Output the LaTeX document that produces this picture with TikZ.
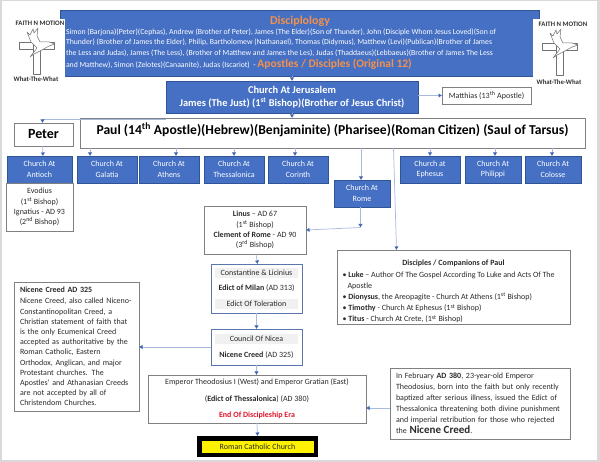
\documentclass[tikz,border=0pt]{standalone}
\usepackage{fontspec}
\setmainfont{Carlito}
\usetikzlibrary{arrows.meta}
\definecolor{bluefill}{HTML}{4570C4}
\definecolor{blueedge}{HTML}{2F5597}
\definecolor{conline}{HTML}{A8BBDF}
\definecolor{contip}{HTML}{3F66B0}
\definecolor{orng}{HTML}{F4914A}
\definecolor{ink}{HTML}{2A2A2A}
\definecolor{band}{HTML}{F1F1F1}
\definecolor{redtxt}{HTML}{E0142B}
\definecolor{frame}{HTML}{D9D9D9}
\newcommand{\fs}[2]{\fontsize{#1}{#2}\selectfont}
\newcommand{\sst}[1]{\textsuperscript{#1}}
\newcommand{\bandline}[1]{\colorbox{band}{\parbox[c][10pt]{83pt}{\centering #1}}}
\setlength{\fboxsep}{0pt}
\tikzset{
  place/.style n args={4}{at={({(#1+#3)/2},{(#2+#4)/2})},minimum width={(#3-#1)*1pt},minimum height={(#4-#2)*1pt}},
  allbox/.style={rectangle,inner sep=0pt,outer sep=0pt,align=center},
  bluebox/.style={allbox,fill=bluefill,draw=blueedge,line width=.5pt,text=white,font=\fs{8}{10.6}},
  whitebox/.style={allbox,fill=white,draw=black!50,line width=.6pt,text=ink,font=\fs{8}{10.2}},
  steelbox/.style={whitebox,draw=blueedge!80,line width=.9pt},
  conn/.style={draw=conline,line width=.7pt,-{Latex[length=3.5pt,width=4.5pt,color=contip]}},
  logotxt/.style={allbox,font=\fs{6.8}{7}\bfseries,text=black!80},
  logoline/.style={draw=black!55,line width=.5pt,fill=white,line join=round}
}
\newcommand{\logomark}{%
  \draw[logoline] (19,42)--(33,42)--(33,49.5)--(19,49.5)--cycle;
  \draw[logoline] (40,42)--(54,42)--(54,49.5)--(40,49.5)--cycle;
  \draw[logoline] (33,42)--(33,74.5)--(40,74.5)--(40,42);
  \draw[logoline] (49,42)--(55,44)--(49,46)--(42,50)--(34,54)--(30,57)--(37,48)--(31,42)--(27,32)--(30,35)--(33,29)--(34,33)--(38,28)--(37,36)--(40,42)--cycle;
}
\begin{document}
\begin{tikzpicture}[x=1pt,y=-1pt]
\useasboundingbox (0,0) rectangle (600,462);
\fill[frame] (0,0) rectangle (600,462);
\fill[white] (1.5,1.5) rectangle (597,460);

% header
\node[bluebox,place={60}{10}{539}{76}] (disc) {};
\fill[white] (532.5,19) rectangle (596,78);
\fill[white] (58,19) rectangle (64.5,78);
\node[allbox,text=orng,font=\fs{12}{14}\bfseries] (disctitle) at (300,21.5) {Disciplology};
\node[allbox,align=left,anchor=north west,text=white,font=\fs{7.75}{10.2}] (discbody) at (66,29) {Simon (Barjona)(Peter)(Cephas), Andrew (Brother of Peter), James (The Elder)(Son of Thunder), John (Disciple Whom Jesus Loved)(Son of\\Thunder) (Brother of James the Elder), Philip, Bartholomew (Nathanael), Thomas (Didymus), Matthew (Levi)(Publican)(Brother of James\\the Less and Judas), James (The Less), (Brother of Matthew and James the Les), Judas (Thaddaeus)(Lebbaeus)(Brother of James The Less\\[2.5pt]and Matthew), Simon (Zelotes)(Canaanite), Judas (Iscariot)\ \ - {\fs{11.5}{12}\bfseries\color{orng}Apostles / Disciples (Original 12)}};

% logos
\logomark
\node[logotxt] (faithL) at (40,23) {FAITH N MOTION};
\node[logotxt] (whatL) at (36,79) {What-The-What};
\begin{scope}[shift={(523,1)}]
\logomark
\end{scope}
\node[logotxt] (faithR) at (563,24) {FAITH N MOTION};
\node[logotxt] (whatR) at (559,82) {What-The-What};

% upper row
\node[bluebox,place={166}{81}{418}{113},font=\fs{10.4}{13}\bfseries] (jeru) {Church At Jerusalem\\James (The Just) (1\sst{st} Bishop)(Brother of Jesus Christ)};
\node[whitebox,place={442}{87}{531}{104}] (matt) {Matthias (13\sst{th} Apostle)};
\node[whitebox,place={14}{123}{73}{146},font=\fs{14}{16}\bfseries,text=black] (peter) {Peter};
\node[whitebox,place={80}{118}{585}{148},font=\fs{13.6}{16}\bfseries,text=black] (paul) {\rule[-9pt]{0pt}{9pt}Paul (14\sst{th} Apostle)(Hebrew)(Benjaminite) (Pharisee)(Roman Citizen) (Saul of Tarsus)};

% churches
\node[bluebox,place={7}{156}{72}{183}] (antioch) {Church At\\Antioch};
\node[bluebox,place={77}{156}{137}{183}] (galatia) {Church At\\Galatia};
\node[bluebox,place={139}{156}{199}{183}] (athens) {Church At\\Athens};
\node[bluebox,place={204}{156}{264}{183}] (thess) {Church At\\Thessalonica};
\node[bluebox,place={268}{156}{328}{183}] (corinth) {Church At\\Corinth};
\node[bluebox,place={334}{180}{390}{207}] (rome) {Church At\\Rome};
\node[bluebox,place={400}{156}{460}{183}] (ephesus) {Church at\\Ephesus};
\node[bluebox,place={465}{156}{521}{183}] (philippi) {Church At\\Philippi};
\node[bluebox,place={525}{156}{581}{183}] (colosse) {Church At\\Colosse};

% lower boxes
\node[whitebox,place={6}{183}{73}{231}] (evodius) {Evodius\\(1\sst{st} Bishop)\\Ignatius - AD 93\\(2\sst{nd} Bishop)};
\node[whitebox,place={204}{206}{306}{254}] (linus) {\textbf{Linus} – AD 67\\(1\sst{st} Bishop)\\\textbf{Clement of Rome} - AD 90\\(3\sst{rd} Bishop)};
\node[steelbox,place={211}{264}{302}{313}] (const) {\bandline{Constantine \& Licinius}\\[5.5pt]\parbox[c][10pt]{83pt}{\centering\textbf{Edict of Milan} (AD 313)}\\[5.5pt]\bandline{Edict Of Toleration}};
\node[steelbox,place={211}{329}{302}{365}] (council) {\bandline{Council Of Nicea}\\[5.5pt]\parbox[c][10pt]{83pt}{\centering\textbf{Nicene Creed} (AD 325)}};
\node[whitebox,place={148}{375}{366}{423}] (emperor) {Emperor Theodosius I (West) and Emperor Gratian (East)\\[6.5pt](\textbf{Edict of Thessalonica}) (AD 380)\\[6.5pt]{\bfseries\color{redtxt}End Of Discipleship Era}};
\node[allbox,draw=black,fill=yellow,line width=4.5pt,outer sep=2.25pt,place={199.25}{438.25}{315.75}{454.75},text=ink,font=\fs{8}{10}] (rcc) {Roman Catholic Church};
\node[whitebox,place={14}{282}{139}{411},text width=113pt,align=left] (nicene) {\textbf{Nicene Creed AD 325}\\[1pt]Nicene Creed, also called Niceno-\\Constantinopolitan Creed, a\\Christian statement of faith that\\is the only Ecumenical Creed\\accepted as authoritative by the\\Roman Catholic, Eastern\\Orthodox, Anglican, and major\\Protestant churches. The\\Apostles’ and Athanasian Creeds\\are not accepted by all of\\Christendom Churches.};
\node[whitebox,place={337}{250}{570}{324},font=\fs{8}{11.1}] (comp) {\rule{0pt}{15pt}\textbf{Disciples / Companions of Paul}\\[4pt]\parbox{222pt}{\raggedright\textbullet\ \textbf{Luke} – Author Of The Gospel According To Luke and Acts Of The\\\hspace*{5pt}Apostle\\\textbullet\ \textbf{Dionysus}, the Areopagite - Church At Athens (1\sst{st} Bishop)\\\textbullet\ \textbf{Timothy} - Church At Ephesus (1\sst{st} Bishop)\\\textbullet\ \textbf{Titus} - Church At Crete, (1\sst{st} Bishop)}};
\node[whitebox,place={390}{368}{570}{439},text width=168pt,align=left,font=\fs{8}{10.9}] (ad380) {In February \textbf{AD 380}, 23-year-old Emperor\\Theodosius, born into the faith but only recently\\baptized after serious illness, issued the Edict of\\Thessalonica threatening both divine punishment\\and imperial retribution for those who rejected\\the {\fs{11}{12}\bfseries Nicene Creed}.};

% connectors
\coordinate (romejoin) at (360.5,227.5);
\path[conn] (disc.south -| jeru.north) -- (jeru.north);
\path[conn] (jeru.south) -- (jeru.south |- paul.north);
\path[conn] ([yshift=-6pt]jeru.south west) -| ([xshift=-1pt]peter.north);
\path[conn] (jeru.east |- matt.west) -- (matt.west);
\path[conn] ([xshift=-1pt]peter.south) -- ([xshift=3.5pt]antioch.north);
\path[conn] (paul.south -| galatia.north) ++(-17,0) -- ([xshift=-17pt]galatia.north);
\path[conn] (paul.south -| athens.north) ++(7,0) -- ([xshift=7pt]athens.north);
\path[conn] (paul.south -| thess.north) -- (thess.north);
\path[conn] (paul.south -| corinth.north) ++(-3,0) -- ([xshift=-3pt]corinth.north);
\path[conn] (paul.south -| rome.north) ++(-1,0) -- ([xshift=-1pt]rome.north);
\path[conn] (paul.south -| comp.north) ++(-60,0) -- ([xshift=-57pt]comp.north);
\path[conn] (paul.south -| ephesus.north) -- (ephesus.north);
\path[conn] (paul.south -| philippi.north) ++(2,0) -- ([xshift=2pt]philippi.north);
\path[conn] (paul.south -| colosse.north) ++(-1,0) -- ([xshift=-1pt]colosse.north);
\path[conn] (rome.south -| romejoin) -- (romejoin);
\path[conn] (romejoin) -- (linus.east);
\path[conn] (linus.south) ++(1,0) -- ([xshift=1pt]const.north);
\path[conn] (const.south) -- (const.south |- council.north);
\path[conn] (council.west) -- ([yshift=-.5pt]nicene.east);
\path[conn] (council.south) -- (council.south |- emperor.north);
\path[conn] (emperor.south) -- (rcc.north);
\path[conn] (ad380.west |- 0,408) -- (emperor.east |- 0,408);
\end{tikzpicture}
\end{document}
